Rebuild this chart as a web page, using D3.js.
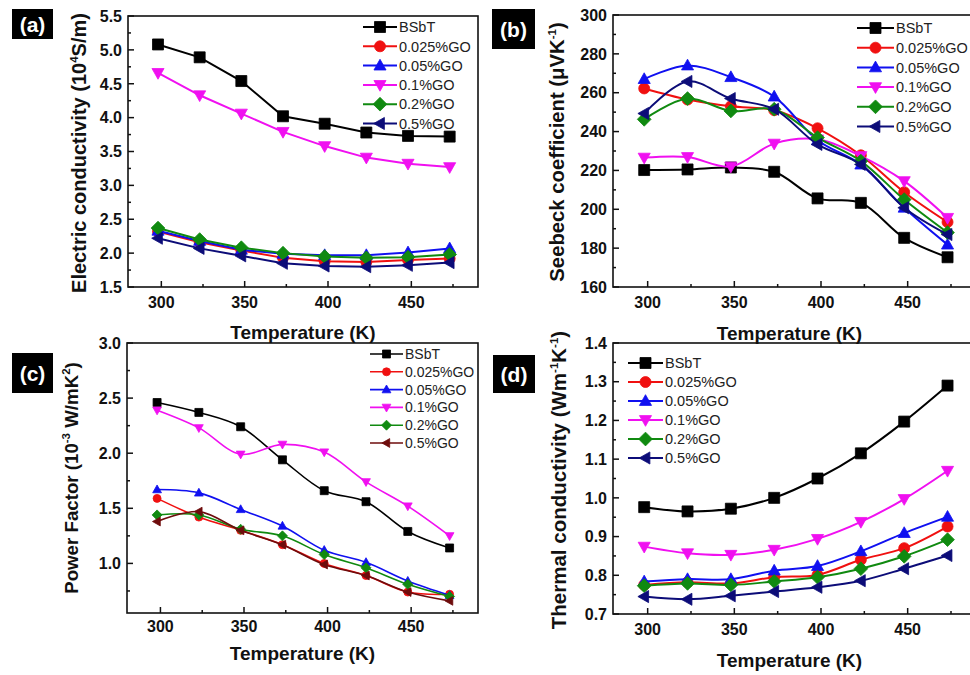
<!DOCTYPE html>
<html>
<head>
<meta charset="utf-8">
<script src="https://cdn.jsdelivr.net/npm/d3@7"></script>
<style>
  body { margin: 0; background: #fff; }
  text { font-family: 'Liberation Sans', Arial, sans-serif; }
</style>
</head>
<body>
<div id="chart"></div>
<script>
(function() {

const width = 970,
      height = 675

// measurement temperatures (K)
const temps = [298, 323, 348, 373, 398, 423, 448, 473]
const seriesNames = ['BSbT', '0.025%GO', '0.05%GO', '0.1%GO', '0.2%GO', '0.5%GO']
const shapes = ['square', 'circle', 'up', 'down', 'diamond', 'left']
const xTicks = [300, 350, 400, 450]
const xMinorTicks = [325, 375, 425, 475]

// (a) electric conductivity, 10^4 S/m
const conductivity = [
  [5.08, 4.89, 4.54, 4.02, 3.91, 3.78, 3.73, 3.72],
  [2.32, 2.16, 2.04, 1.93, 1.88, 1.87, 1.90, 1.92],
  [2.33, 2.18, 2.05, 1.99, 1.97, 1.97, 2.01, 2.07],
  [4.66, 4.33, 4.06, 3.79, 3.58, 3.41, 3.32, 3.27],
  [2.37, 2.20, 2.08, 2.00, 1.95, 1.93, 1.94, 1.98],
  [2.22, 2.07, 1.96, 1.85, 1.81, 1.80, 1.82, 1.86]
]
// (b) seebeck coefficient, uV/K
const seebeck = [
  [220.2, 220.5, 221.5, 219.3, 205.6, 203.3, 185.3, 175.3],
  [262.2, 256.5, 253.0, 251.0, 241.7, 227.8, 208.8, 193.4],
  [267.0, 274.0, 268.0, 258.0, 235.5, 223.0, 200.8, 181.8],
  [226.6, 226.9, 222.0, 233.8, 236.0, 227.4, 214.5, 195.6],
  [246.3, 257.0, 250.6, 251.5, 236.9, 224.8, 205.0, 188.0],
  [249.3, 265.8, 257.0, 251.5, 233.4, 223.1, 200.8, 187.0]
]
// (c) power factor, 10^-3 W/mK^2
const powerFactor = [
  [2.46, 2.37, 2.24, 1.94, 1.66, 1.56, 1.29, 1.14],
  [1.59, 1.42, 1.30, 1.17, 1.00, 0.89, 0.74, 0.72],
  [1.67, 1.64, 1.49, 1.34, 1.12, 1.01, 0.84, 0.71],
  [2.39, 2.23, 1.99, 2.08, 2.01, 1.74, 1.52, 1.25],
  [1.44, 1.44, 1.31, 1.25, 1.08, 0.96, 0.81, 0.70],
  [1.38, 1.47, 1.30, 1.17, 0.99, 0.89, 0.74, 0.66]
]
// (d) thermal conductivity, W/mK
const thermal = [
  [0.976, 0.965, 0.972, 1.000, 1.050, 1.115, 1.197, 1.290],
  [0.775, 0.782, 0.779, 0.795, 0.801, 0.840, 0.870, 0.926],
  [0.784, 0.790, 0.790, 0.812, 0.824, 0.862, 0.909, 0.951],
  [0.874, 0.857, 0.853, 0.866, 0.894, 0.938, 0.997, 1.070],
  [0.773, 0.779, 0.775, 0.784, 0.795, 0.817, 0.849, 0.892],
  [0.745, 0.738, 0.747, 0.758, 0.769, 0.786, 0.817, 0.851]
]

const colors = ['#000000', '#f01010', '#1010f0', '#f010f0', '#108a10', '#0c0c78']
const colorsC = ['#000000', '#f01010', '#1010f0', '#f010f0', '#108a10', '#6e0c0c']

const panels = [
  { tag: '(a)', data: conductivity, colors: colors,
    left: 128, right: 478, top: 16, bottom: 287,
    yDomain: [1.5, 5.5], yTicks: d3.range(1.5, 5.51, 0.5), yMinor: d3.range(1.75, 5.5, 0.5), fmt: d3.format('.1f'),
    curve: d3.curveLinear, lw: 2, ms: 5.5,
    title: [['Electric conductivity (10'], ['4', 1], ['S/m)']], titleX: 79, titleY: 153, titleSize: 20,
    tickY: 308, xTitleY: 339,
    legend: { x: 363, y: 27, step: 19.3, font: 14.5, len: 34 },
    box: { x: 12, y: 9, w: 41, h: 30 } },
  { tag: '(b)', data: seebeck, colors: colors,
    left: 613, right: 977, top: 15, bottom: 287,
    yDomain: [160, 300], yTicks: d3.range(160, 301, 20), yMinor: d3.range(170, 300, 20), fmt: d3.format('d'),
    curve: d3.curveCatmullRom, lw: 2, ms: 5.5,
    title: [['Seebeck coefficient (\u03bcVK'], ['-1', 1], [')']], titleX: 557, titleY: 152, titleSize: 20.3,
    tickY: 308, xTitleY: 340,
    legend: { x: 857, y: 28, step: 19.7, font: 14.5, len: 37 },
    box: { x: 492, y: 9, w: 43, h: 40 } },
  { tag: '(c)', data: powerFactor, colors: colorsC,
    left: 127, right: 478, top: 343, bottom: 613,
    yDomain: [0.55, 3.0], yTicks: d3.range(1.0, 3.01, 0.5), yMinor: d3.range(0.75, 3.0, 0.5), fmt: d3.format('.1f'),
    curve: d3.curveCatmullRom, lw: 1.6, ms: 4,
    title: [['Power Factor (10'], ['-3', 1], [' W/mK'], ['2', 1], [')']], titleX: 71, titleY: 478, titleSize: 18.7,
    tickY: 632, xTitleY: 660,
    legend: { x: 370, y: 354, step: 17.8, font: 14, len: 33 },
    box: { x: 12, y: 353, w: 41, h: 40 } },
  { tag: '(d)', data: thermal, colors: colors,
    left: 613, right: 977, top: 343, bottom: 614,
    yDomain: [0.7, 1.4], yTicks: d3.range(0.7, 1.401, 0.1), yMinor: d3.range(0.75, 1.4, 0.1), fmt: d3.format('.1f'),
    curve: d3.curveCatmullRom, lw: 2, ms: 5.5,
    title: [['Thermal conductivity (Wm'], ['-1', 1], ['K'], ['-1', 1], [')']], titleX: 559, titleY: 480, titleSize: 20.5,
    tickY: 635, xTitleY: 667,
    legend: { x: 628, y: 363, step: 19, font: 14.5, len: 35 },
    box: { x: 493, y: 355, w: 42, h: 38 } }
]

const svg = d3.select('#chart')
  .append('svg')
  .attr('width', width)
  .attr('height', height)
  .style('background', '#fff')

function markerPath(shape, s) {
  if (shape === 'square') return `M${-s},${-s}H${s}V${s}H${-s}Z`
  if (shape === 'circle') return `M${-s},0A${s},${s} 0 1,0 ${s},0A${s},${s} 0 1,0 ${-s},0Z`
  if (shape === 'up') return `M0,${-s * 1.15}L${s * 1.1},${s * 0.8}L${-s * 1.1},${s * 0.8}Z`
  if (shape === 'down') return `M0,${s * 1.15}L${s * 1.1},${-s * 0.8}L${-s * 1.1},${-s * 0.8}Z`
  if (shape === 'left') return `M${-s * 1.15},0L${s * 0.8},${-s * 1.1}L${s * 0.8},${s * 1.1}Z`
  const d = s * 1.25
  return `M0,${-d}L${d},0L0,${d}L${-d},0Z`
}

panels.forEach(function(p) {
  const g = svg.append('g')

  const x = d3.scaleLinear().domain([280, 490]).range([p.left, p.right])
  const y = d3.scaleLinear().domain(p.yDomain).range([p.bottom, p.top])

  // frame
  g.append('rect')
    .attr('x', p.left).attr('y', p.top)
    .attr('width', p.right - p.left).attr('height', p.bottom - p.top)
    .attr('fill', 'none').attr('stroke', '#111').attr('stroke-width', 1.6)

  // x ticks, inward
  g.selectAll('.xt').data(xTicks).enter().append('line')
    .attr('x1', d => x(d)).attr('x2', d => x(d))
    .attr('y1', p.bottom).attr('y2', p.bottom - 6)
    .attr('stroke', '#111').attr('stroke-width', 1.5)
  g.selectAll('.xm').data(xMinorTicks).enter().append('line')
    .attr('x1', d => x(d)).attr('x2', d => x(d))
    .attr('y1', p.bottom).attr('y2', p.bottom - 3)
    .attr('stroke', '#111').attr('stroke-width', 1.5)
  g.selectAll('.xl').data(xTicks).enter().append('text')
    .attr('x', d => x(d)).attr('y', p.tickY)
    .attr('text-anchor', 'middle')
    .attr('font-size', 16).attr('font-weight', 'bold').attr('fill', '#111')
    .text(d => d)

  // y ticks, inward
  g.selectAll('.yt').data(p.yTicks).enter().append('line')
    .attr('x1', p.left).attr('x2', p.left + 6)
    .attr('y1', d => y(d)).attr('y2', d => y(d))
    .attr('stroke', '#111').attr('stroke-width', 1.5)
  g.selectAll('.ym').data(p.yMinor).enter().append('line')
    .attr('x1', p.left).attr('x2', p.left + 3)
    .attr('y1', d => y(d)).attr('y2', d => y(d))
    .attr('stroke', '#111').attr('stroke-width', 1.5)
  g.selectAll('.yl').data(p.yTicks).enter().append('text')
    .attr('x', p.left - 6).attr('y', d => y(d))
    .attr('dy', '0.36em')
    .attr('text-anchor', 'end')
    .attr('font-size', 16).attr('font-weight', 'bold').attr('fill', '#111')
    .text(d => p.fmt(d))

  // axis titles
  g.append('text')
    .attr('x', (p.left + Math.min(p.right, 970)) / 2 + (p.right > 970 ? -2 : 0))
    .attr('y', p.xTitleY)
    .attr('text-anchor', 'middle')
    .attr('font-size', 19).attr('font-weight', 'bold').attr('fill', '#111')
    .text('Temperature (K)')

  const yt = g.append('text')
    .attr('transform', `translate(${p.titleX},${p.titleY}) rotate(-90)`)
    .attr('text-anchor', 'middle')
    .attr('dy', '0.35em')
    .attr('font-size', p.titleSize).attr('font-weight', 'bold').attr('fill', '#111')
  let raised = false
  p.title.forEach(function(part) {
    const ts = yt.append('tspan').text(part[0])
    if (part[1] && !raised) {
      ts.attr('font-size', 11.5).attr('dy', -8)
      raised = true
    } else if (!part[1] && raised) {
      ts.attr('dy', 8)
      raised = false
    }
  })

  // series
  const line = d3.line()
    .x((d, i) => x(temps[i]))
    .y(d => y(d))
    .curve(p.curve)

  p.data.forEach(function(vals, k) {
    const c = p.colors[k]
    g.append('path')
      .attr('d', line(vals))
      .attr('fill', 'none')
      .attr('stroke', c)
      .attr('stroke-width', p.lw)
    g.selectAll('.m' + k).data(vals).enter().append('path')
      .attr('transform', (d, i) => `translate(${x(temps[i])},${y(d)})`)
      .attr('d', markerPath(shapes[k], p.ms))
      .attr('fill', c)
      .attr('stroke', c)
      .attr('stroke-width', 0.8)
  })

  // legend
  const lg = p.legend
  seriesNames.forEach(function(name, k) {
    const ly = lg.y + k * lg.step
    const c = p.colors[k]
    g.append('line')
      .attr('x1', lg.x).attr('x2', lg.x + lg.len)
      .attr('y1', ly).attr('y2', ly)
      .attr('stroke', c).attr('stroke-width', p.lw)
    g.append('path')
      .attr('transform', `translate(${lg.x + lg.len / 2},${ly})`)
      .attr('d', markerPath(shapes[k], p.ms))
      .attr('fill', c).attr('stroke', c).attr('stroke-width', 0.8)
    g.append('text')
      .attr('x', lg.x + lg.len + 2).attr('y', ly)
      .attr('dy', '0.36em')
      .attr('font-size', lg.font).attr('fill', '#222')
      .text(name)
  })

  // panel tag
  g.append('rect')
    .attr('x', p.box.x).attr('y', p.box.y)
    .attr('width', p.box.w).attr('height', p.box.h)
    .attr('fill', '#000')
  g.append('text')
    .attr('x', p.box.x + p.box.w / 2).attr('y', p.box.y + p.box.h / 2)
    .attr('dy', '0.36em')
    .attr('text-anchor', 'middle')
    .attr('font-size', 21).attr('font-weight', 'bold').attr('fill', '#fff')
    .text(p.tag)
})

})()
</script>
</body>
</html>
